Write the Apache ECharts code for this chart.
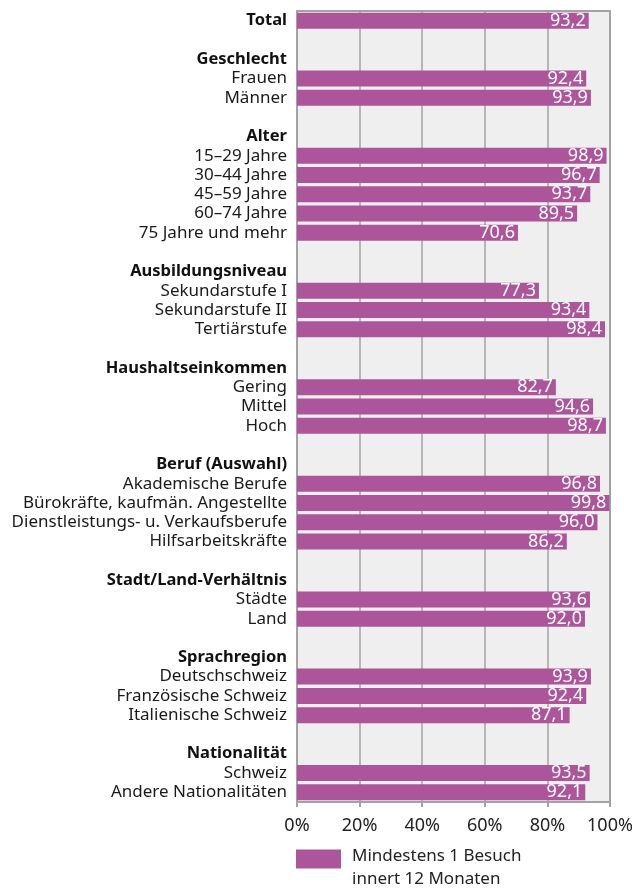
<!DOCTYPE html>
<html>
<head>
<meta charset="utf-8">
<script src="https://cdn.jsdelivr.net/npm/echarts@6/dist/echarts.min.js"></script>
<style>
html,body{margin:0;padding:0;background:#fff;}
#chart{width:639px;height:889px;}
</style>
</head>
<body>
<div id="chart"></div>
<script>
// Rows from top to bottom; '' = blank spacer row
const categories = [
  'Total', '',
  'Geschlecht', 'Frauen', 'Männer', '',
  'Alter', '15–29 Jahre', '30–44 Jahre', '45–59 Jahre', '60–74 Jahre', '75 Jahre und mehr', '',
  'Ausbildungsniveau', 'Sekundarstufe I', 'Sekundarstufe II', 'Tertiärstufe', '',
  'Haushaltseinkommen', 'Gering', 'Mittel', 'Hoch', '',
  'Beruf (Auswahl)', 'Akademische Berufe', 'Bürokräfte, kaufmän. Angestellte', 'Dienstleistungs- u. Verkaufsberufe', 'Hilfsarbeitskräfte', '',
  'Stadt/Land-Verhältnis', 'Städte', 'Land', '',
  'Sprachregion', 'Deutschschweiz', 'Französische Schweiz', 'Italienische Schweiz', '',
  'Nationalität', 'Schweiz', 'Andere Nationalitäten'
];
const boldLabels = ['Total', 'Geschlecht', 'Alter', 'Ausbildungsniveau', 'Haushaltseinkommen',
  'Beruf (Auswahl)', 'Stadt/Land-Verhältnis', 'Sprachregion', 'Nationalität'];
const values = [
  93.2, null,
  null, 92.4, 93.9, null,
  null, 98.9, 96.7, 93.7, 89.5, 70.6, null,
  null, 77.3, 93.4, 98.4, null,
  null, 82.7, 94.6, 98.7, null,
  null, 96.8, 99.8, 96.0, 86.2, null,
  null, 93.6, 92.0, null,
  null, 93.9, 92.4, 87.1, null,
  null, 93.5, 92.1
];
const seriesName = 'Mindestens 1 Besuch\ninnert 12 Monaten';
const xTicks = [0, 20, 40, 60, 80, 100];

// unique keys for blank rows so the category axis keeps every row
const axisCats = categories.map((c, i) => c === '' ? ' '.repeat(i + 1) : c);

const FONT = '"Noto Sans", "Open Sans", sans-serif';
const GRAY = '#a3a3a3';

const chart = echarts.init(document.getElementById('chart'), null, {renderer: 'canvas'});
chart.setOption({
  animation: false,
  textStyle: {fontFamily: FONT},
  grid: {
    left: 297, right: 29, top: 11, height: 791,
    show: true, backgroundColor: '#efefef', borderColor: GRAY, borderWidth: 2,
    containLabel: false
  },
  legend: {
    show: true,
    left: 296, top: 834, padding: 0,
    icon: 'rect', itemWidth: 45, itemHeight: 19, itemGap: 11,
    formatter: name => '{s| }\n' + name.split('\n').map(l => '{t|' + l + '}').join('\n'),
    textStyle: {
      fontFamily: FONT, fontSize: 17, color: '#222',
      rich: {
        s: {fontSize: 4, lineHeight: 18},
        t: {fontFamily: FONT, fontSize: 17, color: '#222', lineHeight: 23, padding: [0, 0, 0, 6]}
      }
    },
    data: [seriesName]
  },
  xAxis: {
    type: 'value', min: xTicks[0], max: xTicks[xTicks.length - 1], interval: 20,
    axisLine: {show: true, lineStyle: {color: GRAY, width: 2}},
    axisTick: {show: true, length: 5, lineStyle: {color: GRAY, width: 2}},
    splitLine: {show: true, lineStyle: {color: GRAY, width: 1.5}},
    axisLabel: {formatter: '{value}%', fontFamily: FONT, fontSize: 18, color: '#222', margin: 15}
  },
  yAxis: {
    type: 'category', inverse: true, data: axisCats,
    axisLine: {show: true, lineStyle: {color: GRAY, width: 2}},
    axisTick: {show: false},
    splitLine: {show: false},
    axisLabel: {
      interval: 0, margin: 10, fontFamily: FONT, fontSize: 17, color: '#1a1a1a',
      formatter: function (v) {
        const t = v.trim();
        if (t === '') return '';
        return boldLabels.indexOf(t) >= 0 ? '{b|' + t + '}' : t;
      },
      rich: {b: {fontWeight: 'bold', fontSize: 16.5, fontFamily: FONT, color: '#111'}}
    }
  },
  series: [{
    name: seriesName,
    type: 'bar',
    data: values,
    barWidth: 16,
    itemStyle: {color: '#ad559a'},
    label: {
      show: true, position: 'insideRight', distance: 3,
      color: '#fff', fontSize: 18, fontFamily: FONT,
      formatter: p => p.value == null ? '' : p.value.toFixed(1).replace('.', ',')
    }
  }]
});
</script>
</body>
</html>
